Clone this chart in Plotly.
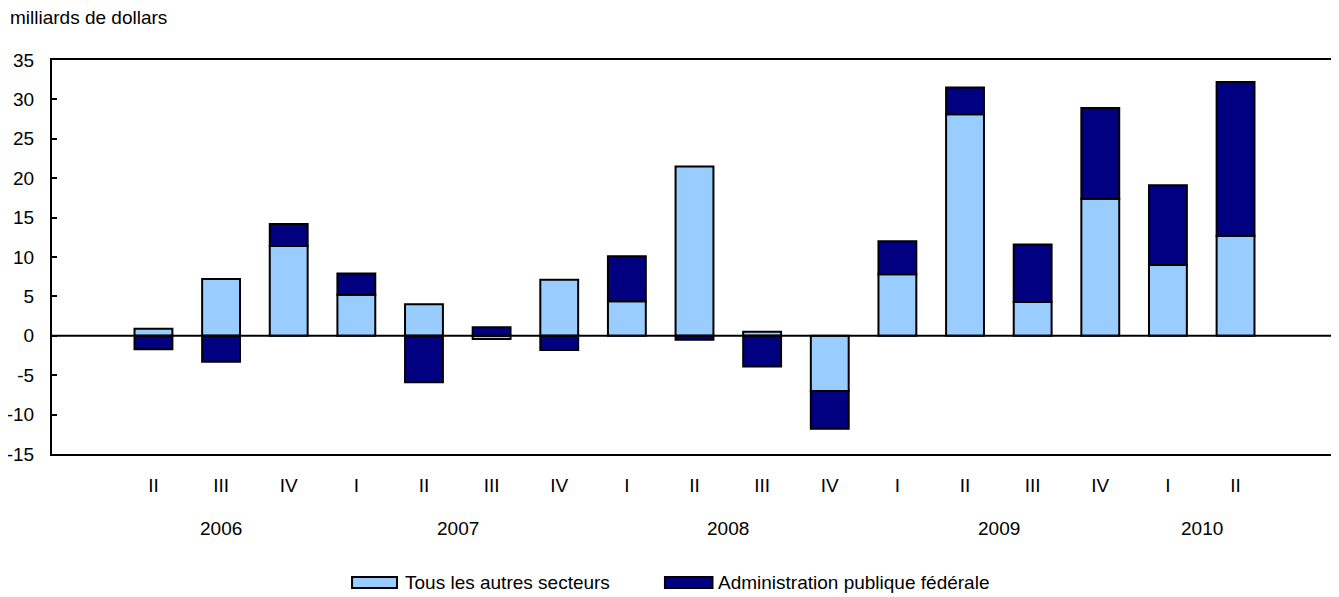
import plotly.graph_objects as go

quarters = ["II", "III", "IV", "I", "II", "III", "IV", "I", "II", "III", "IV", "I", "II", "III", "IV", "I", "II"]
years = ["2006", "2006", "2006", "2007", "2007", "2007", "2007", "2008", "2008", "2008", "2008",
         "2009", "2009", "2009", "2009", "2010", "2010"]
autres = [0.9, 7.2, 11.4, 5.2, 4.0, -0.4, 7.1, 4.4, 21.5, 0.5, -7.0, 7.8, 28.1, 4.3, 17.4, 9.0, 12.7]
federale = [-1.7, -3.3, 2.8, 2.7, -5.9, 1.1, -1.8, 5.7, -0.5, -3.9, -4.8, 4.2, 3.4, 7.3, 11.5, 10.1, 19.5]
year_labels = ["2006", "2007", "2008", "2009", "2010"]
y_ticks = [-15, -10, -5, 0, 5, 10, 15, 20, 25, 30, 35]
y_ticktext = [str(v) for v in y_ticks]

names = ["Tous les autres secteurs", "Administration publique fédérale"]
colors = ["#99CCFF", "#000080"]

x = list(range(len(quarters)))
font = dict(family="Liberation Sans, Arial, sans-serif", size=19, color="black")

fig = go.Figure()
for vals, nm, col in zip([autres, federale], names, colors):
    fig.add_trace(go.Bar(x=x, y=vals, name=nm, showlegend=False,
                         marker=dict(color=col, line=dict(color="black", width=2)), width=0.56))

for yl in year_labels:
    idx = [i for i, yv in enumerate(years) if yv == yl]
    fig.add_annotation(x=sum(idx) / len(idx), y=-0.188, xref="x", yref="paper",
                       text=yl, showarrow=False, font=font, yanchor="middle")

fig.add_annotation(x=-0.0342, xref="paper", xanchor="left", y=1.109, yref="paper",
                   text="milliards de dollars", showarrow=False, font=font, yanchor="middle")

# zero line
fig.add_shape(type="line", xref="paper", x0=0, x1=1, yref="y", y0=0, y1=0,
              line=dict(color="black", width=2), layer="above")

# custom legend (wide rectangles like the reference)
leg = [(0.2335, 0.2685, 0.2732), (0.477, 0.514, 0.5167)]
for (x0, x1, tx), nm, col in zip(leg, names, colors):
    fig.add_shape(type="rect", xref="paper", yref="paper", x0=x0, x1=x1, y0=-0.340, y1=-0.312,
                  fillcolor=col, line=dict(color="black", width=2))
    fig.add_annotation(x=tx, xref="paper", xanchor="left", y=-0.326, yref="paper",
                       yanchor="middle", text=nm, showarrow=False, font=font)

fig.update_layout(
    width=1331, height=589,
    barmode="relative",
    margin=dict(l=44, r=2, t=52, b=143, autoexpand=False),
    plot_bgcolor="white", paper_bgcolor="white",
    font=font,
    showlegend=False,
    xaxis=dict(range=[-1.5, 17.5], tickmode="array", tickvals=x, ticktext=quarters,
               showline=True, linecolor="black", linewidth=2, mirror=True,
               ticks="", showgrid=False, zeroline=False, tickfont=font,
               ticklabelstandoff=13, automargin=False),
    yaxis=dict(range=[-15, 35], tickmode="array", tickvals=y_ticks, ticktext=y_ticktext,
               showline=True, linecolor="black", linewidth=2, mirror=True,
               ticks="inside", ticklen=5, tickwidth=2, tickcolor="black",
               showgrid=False, zeroline=False, tickfont=font,
               ticklabelstandoff=12, automargin=False),
)

fig.write_html("out.html")
